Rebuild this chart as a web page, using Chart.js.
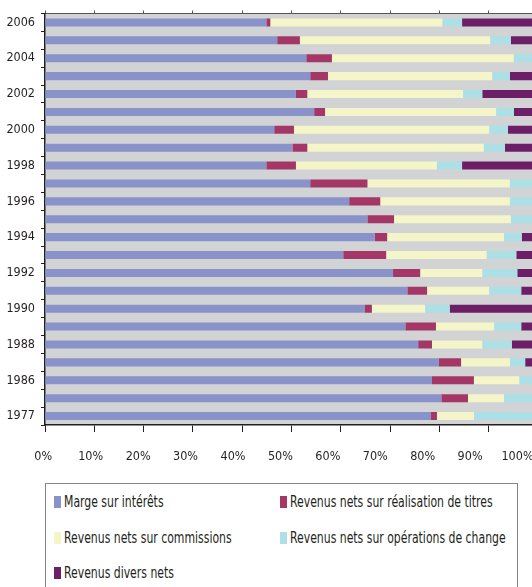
<!DOCTYPE html>
<html lang="fr">
<head>
<meta charset="utf-8">
<title>Structure des revenus</title>
<script src="https://cdn.jsdelivr.net/npm/chart.js@4.4.0/dist/chart.umd.min.js"></script>
<style>
    html, body { margin: 0; padding: 0; background: #fff; overflow: hidden; width: 532px; height: 587px; }
    #wrap { position: absolute; left: 0; top: 0; width: 538px; height: 475px; }
    #legend {
        position: absolute; left: 45px; top: 483px; width: 471px; height: 120px;
        border: 1.5px solid #858585;
        font-family: 'Liberation Sans Narrow', 'DejaVu Sans Condensed', sans-serif;
        font-size: 15.5px; color: #231f20;
    }
    .item { position: absolute; display: flex; align-items: center; white-space: nowrap; height: 16px; }
    .sw { width: 7px; height: 12px; margin-right: 3px; flex: none; }
    /* the original uses a condensed face, squeeze the text to match */
    .txt { display: inline-block; transform: scaleX(0.78); transform-origin: left center; }
</style>
</head>
<body>
<div id="wrap"><canvas id="revenusChart"></canvas></div>
<div id="legend"></div>
<script>
// years, bottom to top
const years = ["1977", "1985", "1986", "1987", "1988", "1989", "1990", "1991", "1992", "1993", "1994",
    "1995", "1996", "1997", "1998", "1999", "2000", "2001", "2002", "2003", "2004", "2005", "2006"];

// shares in % (same order as years)
const margeInterets = [78.3, 80.4, 78.5, 79.9, 75.7, 73.1, 64.9, 73.5, 70.6, 60.5, 66.9,
    65.4, 61.7, 53.8, 44.9, 50.2, 46.5, 54.6, 50.9, 53.8, 53.0, 47.1, 44.9];
const realisationTitres = [1.2, 5.4, 8.5, 4.5, 2.8, 6.2, 1.4, 4.0, 5.5, 8.7, 2.5,
    5.4, 6.3, 11.6, 6.0, 3.0, 4.0, 2.2, 2.3, 3.6, 5.2, 4.6, 0.8];
const commissions = [7.5, 7.3, 9.2, 9.9, 10.2, 11.8, 10.8, 12.6, 12.6, 20.4, 23.7,
    23.7, 26.3, 28.9, 28.6, 35.8, 39.6, 34.7, 31.6, 33.3, 36.9, 38.6, 34.9];
const operationsChange = [13.0, 6.9, 3.8, 3.1, 6.0, 5.5, 5.0, 6.5, 7.1, 6.0, 3.6,
    5.5, 5.7, 5.7, 5.1, 4.3, 3.8, 3.6, 3.9, 3.6, 4.9, 4.2, 4.0];
const diversNets = [0, 0, 0, 2.6, 5.3, 3.4, 17.9, 3.4, 4.2, 4.4, 3.3,
    0, 0, 0, 15.4, 6.7, 6.1, 4.9, 11.3, 5.7, 0, 5.5, 15.4];

const seriesNames = [
    "Marge sur intérêts",
    "Revenus nets sur réalisation de titres",
    "Revenus nets sur commissions",
    "Revenus nets sur opérations de change",
    "Revenus divers nets"
];
const seriesData = [margeInterets, realisationTitres, commissions, operationsChange, diversNets];
const seriesColors = ["#8a93c9", "#a53767", "#f4f5c9", "#addfe6", "#6c1f66"];

const xTicks = [0, 10, 20, 30, 40, 50, 60, 70, 80, 90, 100];

const fontFamily = "'Liberation Sans Narrow', 'DejaVu Sans Condensed', sans-serif";
const axisColor = "#231f20";

// grey plot area
const plotBackground = {
    id: "plotBackground",
    beforeDraw(chart) {
        const { ctx, chartArea: a } = chart;
        ctx.save();
        ctx.fillStyle = "#d1d3d4";
        ctx.fillRect(a.left, a.top, a.right - a.left, a.bottom - a.top);
        ctx.restore();
    }
};

function noSidePadding(scale) {
    scale.paddingLeft = 0;
    scale.paddingRight = 0;
}

const ctx = document.getElementById("revenusChart").getContext("2d");
new Chart(ctx, {
    type: "bar",
    data: {
        labels: years,
        datasets: seriesNames.map((name, i) => ({
            label: name,
            data: seriesData[i],
            backgroundColor: seriesColors[i],
            borderWidth: 0,
            barPercentage: 0.45,
            categoryPercentage: 1,
            xAxisID: "x",
            yAxisID: "y"
        }))
    },
    options: {
        indexAxis: "y",
        responsive: true,
        maintainAspectRatio: false,
        animation: false,
        layout: { padding: 0 },
        plugins: {
            legend: { display: false },
            tooltip: {
                callbacks: {
                    label: item => `${item.dataset.label}: ${item.raw}%`
                }
            }
        },
        scales: {
            x: {
                stacked: true,
                min: 0,
                max: 100,
                position: "bottom",
                weight: 0,
                ticks: { display: false, stepSize: 10 },
                grid: { drawOnChartArea: false, tickLength: 7, color: axisColor, lineWidth: 1 },
                border: { color: axisColor, width: 1.5 },
                afterFit(scale) { scale.height = 7; noSidePadding(scale); }
            },
            // percent labels sit on their own bottom axis (slightly tighter spacing than the tick marks)
            xLabels: {
                type: "linear",
                position: "bottom",
                weight: 1,
                min: 0.36,
                max: 104.32,
                grid: { display: false, drawTicks: false },
                border: { display: false },
                afterBuildTicks(scale) { scale.ticks = xTicks.map(v => ({ value: v })); },
                ticks: {
                    autoSkip: false,
                    maxRotation: 0,
                    padding: 17,
                    color: axisColor,
                    font: { family: fontFamily, size: 12.5 },
                    callback: v => v + "%"
                },
                afterFit(scale) { scale.height = 43; noSidePadding(scale); }
            },
            xTop: {
                type: "linear",
                position: "top",
                min: 0,
                max: 100,
                ticks: { display: false, stepSize: 10 },
                grid: { drawOnChartArea: false, tickLength: 3, color: "#555" },
                border: { color: "#555", width: 1 },
                afterFit(scale) { scale.height = 12; noSidePadding(scale); }
            },
            y: {
                stacked: true,
                reverse: true,
                ticks: {
                    autoSkip: false,
                    padding: 6,
                    color: axisColor,
                    font: { family: fontFamily, size: 12.5 },
                    callback: (value, index) => (index % 2 === 0 ? years[index] : "")
                },
                grid: { drawOnChartArea: false, tickLength: 4, color: axisColor, offset: true },
                border: { color: axisColor, width: 1.5 },
                afterFit(scale) { scale.width = 45; }
            }
        }
    },
    plugins: [plotBackground]
});

// legend, two columns
const legend = document.getElementById("legend");
seriesNames.forEach((name, i) => {
    const item = document.createElement("div");
    item.className = "item";
    item.style.left = (i % 2 === 0 ? 7.5 : 233.5) + "px";
    item.style.top = (10 + Math.floor(i / 2) * 35.7) + "px";
    const sw = document.createElement("span");
    sw.className = "sw";
    sw.style.background = seriesColors[i];
    const txt = document.createElement("span");
    txt.className = "txt";
    txt.textContent = name;
    item.appendChild(sw);
    item.appendChild(txt);
    legend.appendChild(item);
});
</script>
</body>
</html>
